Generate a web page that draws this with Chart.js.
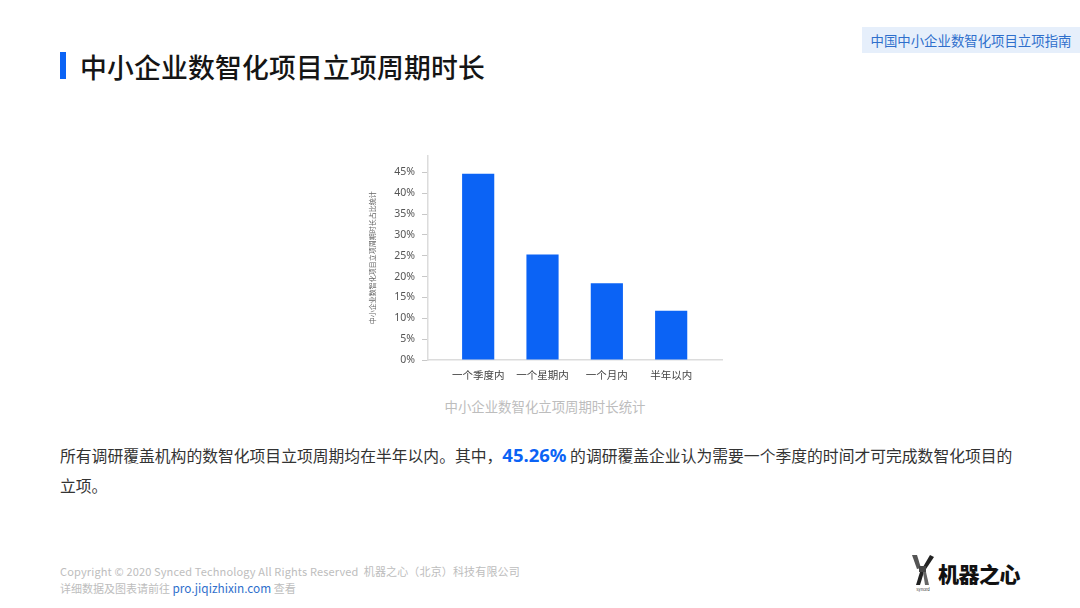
<!DOCTYPE html>
<html>
<head>
<meta charset="utf-8">
<script src="https://cdn.jsdelivr.net/npm/chart.js@4/dist/chart.umd.min.js"></script>
<style>
  html, body { margin: 0; padding: 0; }
  body {
    width: 1080px; height: 608px; position: relative; overflow: hidden;
    background: #fff; font-family: "Noto Sans CJK SC", "Noto Sans", sans-serif;
  }
  .tag {
    position: absolute; left: 862px; top: 27px; width: 218px; height: 26px;
    background: #e6effb; color: #2f6fcc; font-size: 13.4px; line-height: 26px;
    text-align: center;
  }
  .bar { position: absolute; left: 60px; top: 52px; width: 6px; height: 27px; background: #0b63f5; }
  .title {
    position: absolute; left: 80px; top: 47px; font-size: 26.8px; font-weight: 500;
    color: #151515; line-height: 40px; letter-spacing: 0.2px;
  }
  .chart-wrap { position: absolute; left: 360px; top: 140px; width: 380px; height: 250px; }
  .subtitle {
    position: absolute; left: 360px; width: 370px; top: 396px; text-align: center;
    font-size: 13.4px; color: #bdbdbd;
  }
  .para {
    position: absolute; left: 60px; top: 440px; width: 990px; font-size: 15.8px;
    line-height: 30px; color: #333;
  }
  .para b { color: #0b63f5; font-family: "Noto Sans", sans-serif; font-size: 18.5px; font-weight: 700; }
  .foot {
    position: absolute; left: 60px; font-size: 11px; line-height: 14px; color: #bdbdbd; white-space: nowrap;
  }
  .foot span { color: #2f6fcc; font-size: 11.8px; }
  .logo { position: absolute; left: 908px; top: 553px; }
  .logo .txt {
    position: absolute; left: 30px; top: 5px; font-size: 21px; font-weight: 900;
    color: #111; white-space: nowrap; letter-spacing: -0.5px;
  }
</style>
</head>
<body>
<div class="tag">中国中小企业数智化项目立项指南</div>
<div class="bar"></div>
<div class="title">中小企业数智化项目立项周期时长</div>

<div class="chart-wrap"><canvas id="chart"></canvas></div>
<div class="subtitle">中小企业数智化立项周期时长统计</div>

<div class="para">所有调研覆盖机构的数智化项目立项周期均在半年以内。其中，<b>45.26%</b> 的调研覆盖企业认为需要一个季度的时间才可完成数智化项目的<br>立项。</div>

<div class="foot" style="top:564px; letter-spacing:0.15px">Copyright © 2020 Synced Technology All Rights Reserved&nbsp; 机器之心（北京）科技有限公司</div>
<div class="foot" style="top:581px">详细数据及图表请前往 <span>pro.jiqizhixin.com</span> 查看</div>

<div class="logo">
  <svg width="30" height="40" viewBox="0 0 30 40">
    <polygon points="4,2 9,2 13,15 9,16" fill="#555"/>
    <polygon points="22,2 26,4 18,16 15,14" fill="#222"/>
    <rect x="11" y="13" width="7" height="6" fill="#444"/>
    <polygon points="12,19 16,19 12,32 8,32" fill="#222"/>
    <polygon points="15,19 18,19 21,32 17,32" fill="#666"/>
    <text x="15" y="38" font-size="4" text-anchor="middle" fill="#333">Synced</text>
  </svg>
  <div class="txt">机器之心</div>
</div>

<script>
const categories = ['一个季度内', '一个星期内', '一个月内', '半年以内'];
const shares = [44.7, 25.3, 18.4, 11.8];
const yTicks = [0, 5, 10, 15, 20, 25, 30, 35, 40, 45];
const yTitle = '中小企业数智化项目立项周期时长占比统计';

const points = shares.map((v, i) => ({ x: i, y: v }));

new Chart(document.getElementById('chart'), {
  type: 'bar',
  data: {
    datasets: [{
      data: points,
      backgroundColor: '#0b63f5',
      barPercentage: 0.5,
      categoryPercentage: 1
    }]
  },
  options: {
    responsive: true,
    maintainAspectRatio: false,
    animation: false,
    layout: { padding: { top: 15.7, right: 18, bottom: 0, left: 0 } },
    plugins: { legend: { display: false }, tooltip: { enabled: false } },
    scales: {
      x: {
        type: 'linear',
        offset: false,
        min: -0.78,
        max: 3.79,
        afterBuildTicks: (s) => { s.ticks = categories.map((c, i) => ({ value: i })); },
        afterFit: (s) => { s.height = 30; },
        grid: { display: false, drawTicks: false, offset: false },
        border: { display: true, color: '#dcdcdc', width: 1.5 },
        ticks: {
          padding: 9,
          color: '#444',
          font: { family: '"Noto Sans CJK SC", sans-serif', size: 10.5 },
          callback: (v) => categories[v]
        }
      },
      y: {
        min: 0,
        max: 49,
        afterBuildTicks: (s) => { s.ticks = yTicks.map(v => ({ value: v })); },
        afterFit: (s) => { s.width = 68; },
        grid: { drawOnChartArea: false, drawTicks: true, tickLength: 6, color: '#c8c8c8' },
        border: { display: true, color: '#dcdcdc', width: 1.5 },
        ticks: {
          padding: 7,
          color: '#555',
          font: { family: '"Noto Sans", sans-serif', size: 10.5 },
          callback: (v) => v + '%'
        },
        title: {
          display: true,
          text: yTitle,
          color: '#666',
          padding: { top: 8, bottom: 0 },
          font: { family: '"Noto Sans CJK SC", sans-serif', size: 7 }
        }
      }
    }
  }
});
</script>
</body>
</html>
